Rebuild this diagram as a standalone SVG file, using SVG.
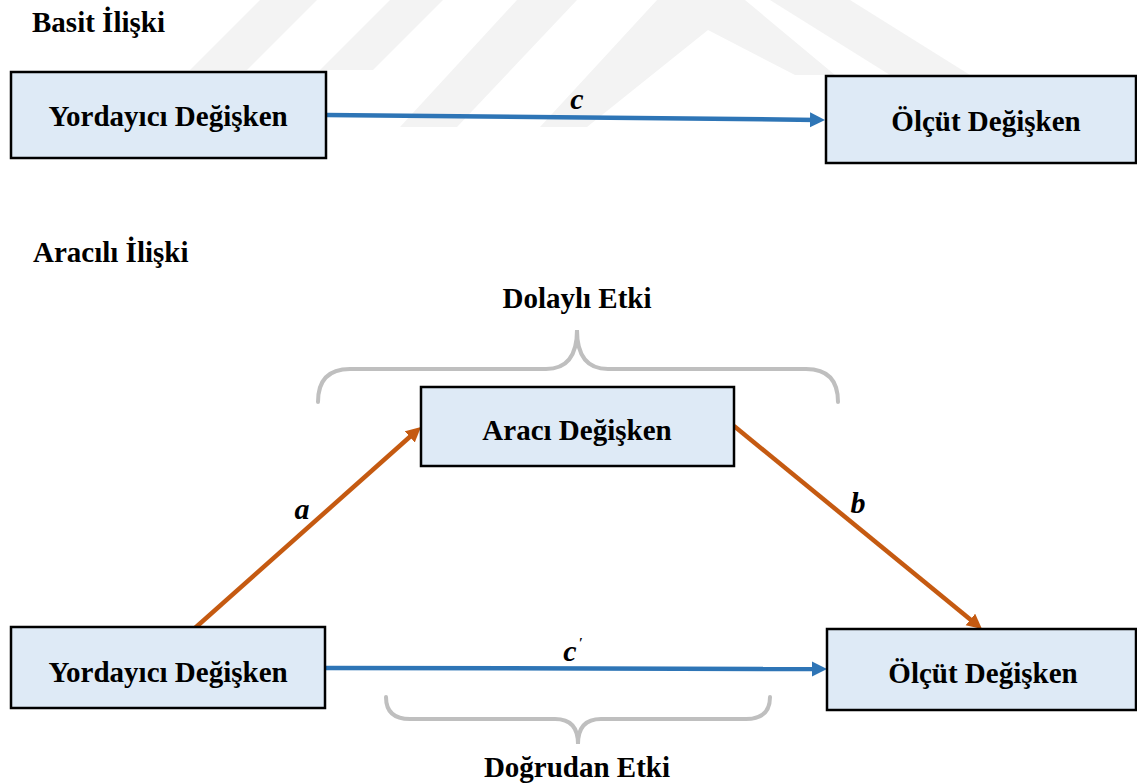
<svg xmlns="http://www.w3.org/2000/svg" width="1137" height="783" viewBox="0 0 1137 783">
  <style>
    .wm { fill: #f3f3f3; }
    .box { fill: #deeaf6; stroke: #000; stroke-width: 2.5; }
    .lbl { font-family: "Liberation Serif", "Times New Roman", serif; font-weight: bold; font-size: 29px; fill: #000; }
    .mid { text-anchor: middle; }
    .path-lbl { font-family: "Liberation Serif", "Times New Roman", serif; font-weight: bold; font-style: italic; font-size: 30px; fill: #000; text-anchor: middle; }
    .blue { stroke: #2e75b6; stroke-width: 4.5; fill: none; marker-end: url(#head-blue); }
    .orange { stroke: #c55a11; stroke-width: 4.5; fill: none; marker-end: url(#head-orange); }
    .brace { stroke: #bfbfbf; stroke-width: 4; fill: none; stroke-linecap: round; }
  </style>
  <defs>
    <marker id="head-blue" markerUnits="userSpaceOnUse" markerWidth="16" markerHeight="16" refX="7" refY="7.5" orient="auto">
      <path d="M0,0 L15,7.5 L0,15 z" fill="#2e75b6"/>
    </marker>
    <marker id="head-orange" markerUnits="userSpaceOnUse" markerWidth="16" markerHeight="16" refX="7" refY="7.5" orient="auto">
      <path d="M0,0 L15,7.5 L0,15 z" fill="#c55a11"/>
    </marker>
  </defs>

  <rect width="1137" height="783" fill="#fff"/>

  <!-- faint background emblem -->
  <g id="emblem">
    <polygon class="wm" points="260,0 317,0 247,70 190,70"/>
    <polygon class="wm" points="390,0 443,0 373,70 320,70"/>
    <polygon class="wm" points="517,0 577,0 457,127 400,127"/>
    <polygon class="wm" points="540,127 657,0 745,0 835,75 795,75 708,30 587,127"/>
    <polygon class="wm" points="770,0 850,0 970,75 890,75"/>
  </g>

  <!-- section titles -->
  <text class="lbl" x="32" y="32">Basit İlişki</text>
  <text class="lbl" x="33" y="262">Aracılı İlişki</text>

  <!-- braces -->
  <g id="braces">
    <path class="brace" d="M318,402 Q318,369 350,369 L546,369 Q577,369 577,330 Q577,369 608,369 L806,369 Q838,369 838,402"/>
    <path class="brace" d="M386,697 Q386,719 410,719 L555,719 Q578,719 578,744 Q578,719 601,719 L746,719 Q770,719 770,697"/>
    <text class="lbl mid" x="577" y="308">Dolaylı Etki</text>
    <text class="lbl mid" x="577" y="777">Doğrudan Etki</text>
  </g>

  <!-- connectors -->
  <g id="connectors">
    <line class="blue" x1="326" y1="115" x2="817" y2="119.9"/>
    <line class="orange" x1="195" y1="628" x2="415" y2="432.3"/>
    <line class="orange" x1="734" y1="426" x2="975.8" y2="623.9"/>
    <line class="blue" x1="325" y1="668" x2="819" y2="669"/>
    <text class="path-lbl" x="577" y="109">c</text>
    <text class="path-lbl" x="302" y="519">a</text>
    <text class="path-lbl" x="858" y="513">b</text>
    <text class="path-lbl" x="573" y="661">c<tspan font-size="14" dy="-13" dx="2">′</tspan></text>
  </g>

  <!-- simple relation -->
  <g id="predictor-simple">
    <rect class="box" x="11" y="72" width="315" height="86"/>
    <text class="lbl mid" x="168" y="126">Yordayıcı Değişken</text>
  </g>
  <g id="criterion-simple">
    <rect class="box" x="826" y="76" width="310" height="87"/>
    <text class="lbl mid" x="986" y="131">Ölçüt Değişken</text>
  </g>

  <!-- mediated relation -->
  <g id="mediator">
    <rect class="box" x="421" y="387" width="313" height="79"/>
    <text class="lbl mid" x="577" y="440">Aracı Değişken</text>
  </g>
  <g id="predictor-mediated">
    <rect class="box" x="11" y="627" width="314" height="81"/>
    <text class="lbl mid" x="168" y="682">Yordayıcı Değişken</text>
  </g>
  <g id="criterion-mediated">
    <rect class="box" x="827" y="629" width="309" height="81"/>
    <text class="lbl mid" x="983" y="683">Ölçüt Değişken</text>
  </g>
</svg>
